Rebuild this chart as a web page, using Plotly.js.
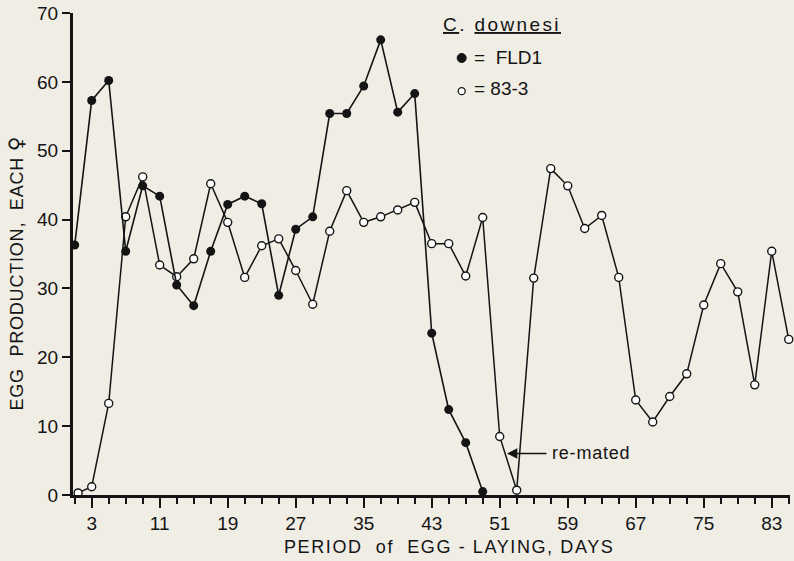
<!DOCTYPE html>
<html>
<head>
<meta charset="utf-8">
<script src="https://cdn.plot.ly/plotly-3.0.1.min.js"></script>
<style>html,body{margin:0;padding:0;background:#f0ede5;}</style>
</head>
<body>
<div id="chart" style="width:794px;height:561px;"></div>
<script>
// Strain FLD1 (filled circles)
const fld1Days = [1,3,5,7,9,11,13,15,17,19,21,23,25,27,29,31,33,35,37,39,41,43,45,47,49];
const fld1Eggs = [36.3,57.3,60.2,35.4,44.9,43.4,30.5,27.5,35.4,42.2,43.4,42.3,29.0,38.6,40.4,55.4,55.4,59.4,66.1,55.6,58.3,23.5,12.4,7.6,0.5];

// Strain 83-3 (open circles)
const s833Days = [1.4,3,5,7,9,11,13,15,17,19,21,23,25,27,29,31,33,35,37,39,41,43,45,47,49,51,53,55,57,59,61,63,65,67,69,71,73,75,77,79,81,83,85];
const s833Eggs = [0.3,1.2,13.3,40.4,46.2,33.4,31.7,34.3,45.2,39.6,31.6,36.2,37.2,32.6,27.7,38.3,44.2,39.6,40.4,41.4,42.5,36.5,36.5,31.8,40.3,8.5,0.7,31.5,47.4,44.9,38.7,40.6,31.6,13.8,10.6,14.3,17.6,27.6,33.6,29.5,16.0,35.4,22.6];

const xTickVals = [3,11,19,27,35,43,51,59,67,75,83];
const yTickVals = [0,10,20,30,40,50,60,70];

const FONT = 'Liberation Sans, Arial, Helvetica, sans-serif';
const INK = '#141414';
const BG = '#f0ede5';

const traces = [
  {
    x: s833Days, y: s833Eggs, type: 'scatter', mode: 'lines+markers', name: '83-3',
    line: {color: INK, width: 1.5},
    marker: {symbol: 'circle', size: 8, color: '#ffffff', line: {color: INK, width: 1.4}},
    cliponaxis: false
  },
  {
    x: fld1Days, y: fld1Eggs, type: 'scatter', mode: 'lines+markers', name: 'FLD1',
    line: {color: INK, width: 1.6},
    marker: {symbol: 'circle', size: 9, color: INK},
    cliponaxis: false
  }
];

const sp = (t, ls) => '<span style="letter-spacing:' + ls + 'px">' + t + '</span>';

const layout = {
  width: 794, height: 561,
  margin: {l: 73, r: 4, t: 13, b: 66},
  paper_bgcolor: BG, plot_bgcolor: BG,
  showlegend: false,
  font: {family: FONT, color: INK, size: 18},
  xaxis: {
    range: [0.8, 85.15], showgrid: false, zeroline: false,
    showline: true, linecolor: INK, linewidth: 2.5,
    tickmode: 'array', tickvals: xTickVals, ticktext: xTickVals.map(String),
    ticks: 'outside', ticklen: 10, tickwidth: 2, tickcolor: INK,
    tickfont: {family: FONT, size: 19, color: INK},
    minor: {tick0: 1, dtick: 2, ticks: 'outside', ticklen: 6, tickwidth: 1.8, tickcolor: INK, showgrid: false}
  },
  yaxis: {
    range: [0, 70], showgrid: false, zeroline: false,
    showline: true, linecolor: INK, linewidth: 3,
    tickmode: 'array', tickvals: yTickVals, ticktext: yTickVals.map(String),
    ticks: 'outside', ticklen: 8, tickwidth: 2, tickcolor: INK,
    tickfont: {family: FONT, size: 19, color: INK}
  },
  shapes: [
    {type: 'circle', xref: 'paper', yref: 'paper', xsizemode: 'pixel', ysizemode: 'pixel',
     xanchor: (461.7-73)/717, yanchor: (495.5-58.3)/482.2, x0: -4.5, x1: 4.5, y0: -4.5, y1: 4.5,
     fillcolor: INK, line: {color: INK, width: 1}},
    {type: 'circle', xref: 'paper', yref: 'paper', xsizemode: 'pixel', ysizemode: 'pixel',
     xanchor: (461.7-73)/717, yanchor: (495.5-91.5)/482.2, x0: -3.5, x1: 3.5, y0: -3.5, y1: 3.5,
     fillcolor: '#ffffff', line: {color: INK, width: 1.3}}
  ],
  annotations: [
    {xref: 'paper', yref: 'paper', x: (16-73)/717, y: (495.5-274)/482.2, textangle: -90,
     text: sp('EGG  PRODUCTION,  EACH ', 0.8) + '<span style="font-family:DejaVu Sans;font-size:20px">♀</span>',
     showarrow: false, xanchor: 'center', yanchor: 'middle',
     font: {family: FONT, size: 18, color: INK}},
    {xref: 'paper', yref: 'paper', x: (449-73)/717, y: (495.5-548)/482.2,
     text: sp('PERIOD  of  EGG - LAYING, DAYS', 1.6), showarrow: false, xanchor: 'center', yanchor: 'middle',
     font: {family: FONT, size: 18, color: INK}},
    {xref: 'paper', yref: 'paper', x: (441-73)/717, y: (495.5-25)/482.2,
     text: sp('<u>C</u>. <u>downesi</u>', 2.4), showarrow: false, xanchor: 'left', yanchor: 'middle',
     font: {family: FONT, size: 19, color: INK}},
    {xref: 'paper', yref: 'paper', x: (472-73)/717, y: (495.5-58)/482.2,
     text: '=&nbsp;&nbsp;FLD1', showarrow: false, xanchor: 'left', yanchor: 'middle',
     font: {family: FONT, size: 19, color: INK}},
    {xref: 'paper', yref: 'paper', x: (472-73)/717, y: (495.5-89)/482.2,
     text: '=&nbsp;83-3', showarrow: false, xanchor: 'left', yanchor: 'middle',
     font: {family: FONT, size: 19, color: INK}},
    {xref: 'x', yref: 'y', x: 51.85, y: 6.03, ax: 41, ay: 0, text: '',
     showarrow: true, arrowhead: 2, arrowsize: 1.3, arrowwidth: 1.6, arrowcolor: INK},
    {xref: 'x', yref: 'y', x: 56.9, y: 6.03, text: sp('re-mated', 0.8), showarrow: false,
     xanchor: 'left', yanchor: 'middle', font: {family: FONT, size: 18, color: INK}}
  ]
};

Plotly.newPlot('chart', traces, layout, {displayModeBar: false, staticPlot: true});
</script>
</body>
</html>
